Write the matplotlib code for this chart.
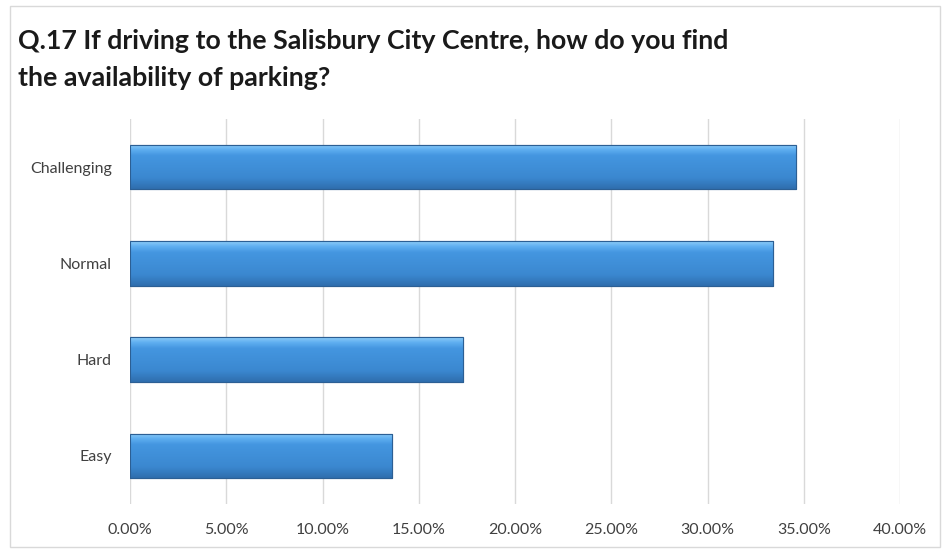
import matplotlib
matplotlib.use("Agg")
import matplotlib.pyplot as plt
import numpy as np
from matplotlib.patches import Rectangle
from matplotlib.ticker import FuncFormatter, MultipleLocator
from matplotlib.colors import LinearSegmentedColormap

categories = ["Easy", "Hard", "Normal", "Challenging"]
values = [13.6, 17.3, 33.4, 34.6]
title = "Q.17 If driving to the Salisbury City Centre, how do you find\nthe availability of parking?"

plt.rcParams['font.family'] = ['Lato', 'DejaVu Sans']

fig = plt.figure(figsize=(9.42, 5.49), dpi=100)
# outer border
fig.patches.append(Rectangle((0.011, 0.004), 0.987, 0.985, transform=fig.transFigure,
                             fill=False, edgecolor='#d9d9d9', linewidth=1.0))

ax = fig.add_axes([130/942, 1 - 504/549, (900-130)/942, (504-119)/549])
y = np.arange(len(categories))
bars = ax.barh(y, values, height=0.46, color='#3d8fd9', edgecolor='#2c5f94', linewidth=0.8, zorder=3)

# gradient fill
grad = np.linspace(0, 1, 100).reshape(-1, 1)
cmap = LinearSegmentedColormap.from_list('bev', [(0, '#2f6eae'), (0.25, '#3b88d0'), (0.75, '#4496e0'), (0.88, '#5eaef0'), (1.0, '#8cccf8')])
for b in bars:
    x0, y0 = b.get_x(), b.get_y()
    w, h = b.get_width(), b.get_height()
    im = ax.imshow(grad, extent=(x0, x0 + w, y0, y0 + h), origin='lower', aspect='auto',
                   cmap=cmap, zorder=3.5)
    im.set_clip_path(b)
    ax.add_patch(Rectangle((x0, y0), w, h, fill=False, edgecolor='#2c5f94', linewidth=0.8, zorder=4))

ax.set_xlim(0, 40)
ax.set_ylim(-0.5, len(categories) - 0.5)
ax.xaxis.set_major_locator(MultipleLocator(5))
ax.xaxis.set_major_formatter(FuncFormatter(lambda v, p: f"{v:.2f}%"))
ax.set_yticks(y)
ax.set_yticklabels(categories)
ax.grid(axis='x', color='#d9d9d9', linewidth=1.0, zorder=0)
for s in ax.spines.values():
    s.set_visible(False)
ax.tick_params(axis='both', length=0, labelsize=11.5, labelcolor='#404040')
ax.tick_params(axis='x', pad=14)
ax.tick_params(axis='y', pad=13)

fig.text(18/942, 1 - 29/549, title, fontsize=19.3, fontweight='bold', color='#1a1a1a',
         va='top', ha='left', linespacing=1.65)

fig.savefig("out.png", dpi=100)
